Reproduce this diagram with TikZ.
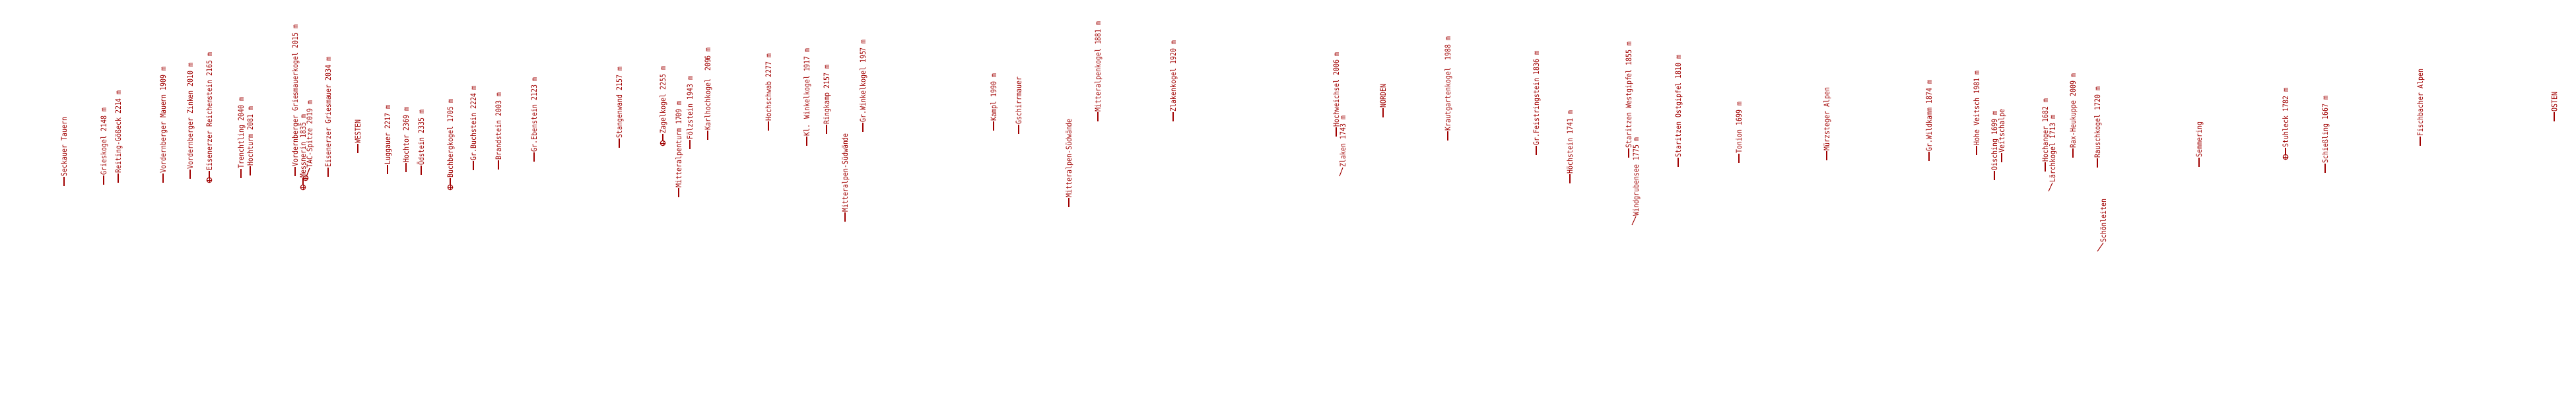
\documentclass[tikz,border=0pt]{standalone}
\usepackage{fontspec}
\newfontfamily\lblfont[FakeStretch=0.86]{DejaVu Sans Mono}
\definecolor{gipfelrot}{RGB}{160,0,0}
\begin{document}
\begin{tikzpicture}[x=1pt,y=-1pt,line cap=butt]
	\tikzset{every node/.style={inner sep=0pt,outer sep=0pt},
		lbl/.style={rotate=90,anchor=west,text=gipfelrot,inner xsep=0.8pt,
			font=\lblfont\fontsize{11.5}{12}\selectfont,text height=8.4pt,text depth=0pt},
		strich/.style={draw=gipfelrot,line width=1.3pt},
		gipfel/.style={circle,draw=gipfelrot,line width=1.1pt,minimum size=7.5pt,
			path picture={\draw[gipfelrot,line width=0.8pt]
				(path picture bounding box.north)--(path picture bounding box.south)
				(path picture bounding box.west)--(path picture bounding box.east);}}}
	\def \breite{3902}	\def \hoehe{620}
	\useasboundingbox (0,0) rectangle (\breite,\hoehe);
	% gerade Striche
	\foreach \x/\y/\t [count=\i] in {97/282/Seckauer Tauern,157/280/Grieskogel 2148 m,
		179/277/Reiting-Gößeck 2214 m,247/277/Vordernberger Mauern 1909 m,
		288/271/Vordernberger Zinken 2010 m,365/270/Trenchtling 2040 m,379/266/Hochturm 2081 m,
		447/267/Vordernberger Griesmauerkogel 2015 m,497/268/Eisenerzer Griesmauer 2034 m,
		542/232/WESTEN,587/264/Luggauer 2217 m,615/261/Hochtor 2369 m,638/265/Ödstein 2335 m,
		717/258/Gr.Buchstein 2224 m,755/257/Brandstein 2003 m,809/245/Gr.Ebenstein 2123 m,
		938/224/Stangenwand 2157 m,1028/299/Mitteralpenturm 1709 m,1045/226/Fölzstein 1943 m,
		1072/212/Karlhochkogel~~2096 m,1164/198/Hochschwab 2277 m,1222/221/Kl. Winkelkogel 1917 m,
		1252/203/Ringkamp 2157 m,1280/336/Mitteralpen-Südwände,1307/200/Gr.Winkelkogel 1957 m,
		1505/198/Kampl 1990 m,1543/203/Gschirrmauer,1619/314/Mitteralpen-Südwände,
		1663/184/Mitteralpenkogel 1881 m,1777/184/Zlakenkogel 1920 m,2024/207/Hochweichsel 2006 m,
		2095/178/NORDEN,2193/213/Krautgartenkogel~~1988 m,2327/235/Gr.Feistringstein 1836 m,
		2378/278/Höchstein 1741 m,2467/239/Staritzen Westgipfel 1855 m,
		2542/253/Staritzen Ostgipfel 1810 m,2634/247/Tonion 1699 m,2767/243/Mürzsteger Alpen,
		2922/244/Gr.Wildkamm 1874 m,2994/235/Hohe Veitsch 1981 m,3021/273/Oisching 1699 m,
		3032/246/Veitschalpe,3098/260/Hochanger 1682 m,3140/239/Rax-Heukuppe 2009 m,
		3177/254/Rauschkogel 1720 m,3331/253/Semmering,3522/262/Schießling 1667 m,
		3666/221/Fischbacher Alpen,3869/184/OSTEN}
	{
		\coordinate (f\i) at (\x,\y);
		\node[lbl] (g\i) at (\x,\y-14) {\t};
		\draw[strich] (f\i)--(g\i.west);
	}
	% Gipfel mit Kreuz
	\foreach \x/\y/\t [count=\i] in {317/273/Eisenerzer Reichenstein 2165 m,459/284/Messnerin 1835 m,
		682/284/Buchbergkogel 1705 m,1004/217/Zagelkogel 2255 m,3462/238/Stuhleck 1782 m}
	{
		\node[gipfel] (k\i) at (\x,\y) {};
		\node[lbl] (h\i) at (\x,\y-14) {\t};
		\draw[strich] (k\i)--(h\i.west);
	}
	\node[gipfel] (tac) at (463,270) {};
	\node[lbl] (tact) at (469,255) {TAC-Spitze 2019 m};
	\draw[strich] (tac)--(tact.west);
	% schraege Striche
	\foreach \x/\y/\d/\t [count=\i] in {2029/267/5/Zlaken 1743 m,2472/341/6/Windgrubensee 1775 m,
		3103/290/6/Lärchkogel 1713 m,3177/381/9/Schönleiten}
	{
		\coordinate (s\i) at (\x,\y);
		\node[lbl] (z\i) at (\x+\d,\y-13) {\t};
		\draw[strich,line width=1pt] (s\i)--(z\i.west);
	}
\end{tikzpicture}
\end{document}
